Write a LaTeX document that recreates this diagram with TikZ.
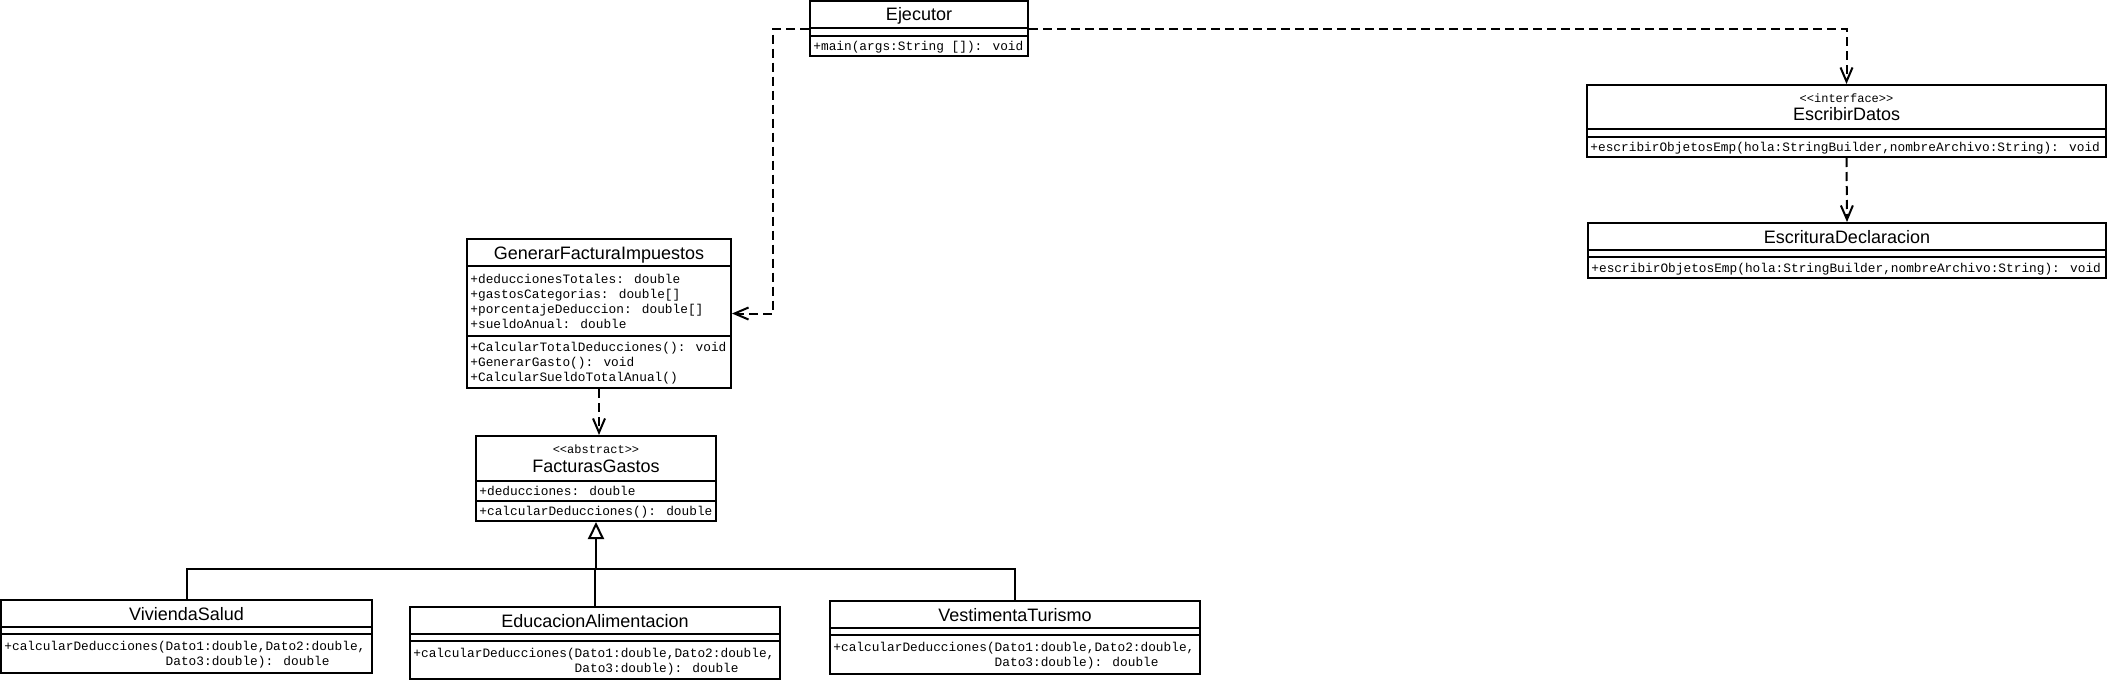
\documentclass[tikz,border=0pt]{standalone}
\usepackage{fontspec}
\setmainfont{Liberation Sans}
\newfontfamily\monof[Ligatures=TeXOff]{Liberation Mono}
\usetikzlibrary{arrows.meta,fit}
\begin{document}
\begin{tikzpicture}[x=0.5pt,y=-0.5pt,
  box/.style={draw, line width=1pt, inner sep=0pt, fit={#1}},
  div/.style={line width=1pt},
  cname/.style={font=\fontsize{9}{10}\selectfont, inner sep=0pt, text height=6.5pt, text depth=0pt},
  stereo/.style={font=\monof\fontsize{6}{7}\selectfont, inner sep=0pt, text height=4pt, text depth=0pt},
  member/.style={font=\monof\fontsize{6.4}{7.8}\selectfont, inner sep=0pt, anchor=west, text height=4.2pt, text depth=0pt},
  dep/.style={line width=1pt, dash pattern=on 4.5pt off 2.5pt, -{Straight Barb[length=7pt,width=6pt]}},
  gen/.style={line width=1pt},
]
\useasboundingbox (0,0) rectangle (2109,680);

% Ejecutor
\node[box={(810,1) (1028,56)}] (ejec) {};
\draw[div] (810,28) -- (1028,28) (810,36) -- (1028,36);
\node[cname] (ejec-n) at (919,14) {Ejecutor};
\node[member] (ejec-m) at (813,46) {+main(args:String []): void};

% EscribirDatos
\node[box={(1587,85) (2106,157)}] (escr) {};
\draw[div] (1587,129) -- (2106,129) (1587,137) -- (2106,137);
\node[stereo] (escr-s) at (1846.5,98) {<<interface>>};
\node[cname] (escr-n) at (1846.5,114) {EscribirDatos};
\node[member] (escr-m) at (1590,147) {+escribirObjetosEmp(hola:StringBuilder,nombreArchivo:String): void};

% EscrituraDeclaracion
\node[box={(1588,223) (2106,278)}] (escd) {};
\draw[div] (1588,250) -- (2106,250) (1588,257) -- (2106,257);
\node[cname] (escd-n) at (1847,237) {EscrituraDeclaracion};
\node[member] (escd-m) at (1591,268) {+escribirObjetosEmp(hola:StringBuilder,nombreArchivo:String): void};

% GenerarFacturaImpuestos
\node[box={(467,239) (731,388)}] (gen) {};
\draw[div] (467,266) -- (731,266) (467,336) -- (731,336);
\node[cname] (gen-n) at (599,252.5) {GenerarFacturaImpuestos};
\node[member] (gen-a1) at (470,279) {+deduccionesTotales: double};
\node[member] (gen-a2) at (470,294) {+gastosCategorias: double[]};
\node[member] (gen-a3) at (470,309) {+porcentajeDeduccion: double[]};
\node[member] (gen-a4) at (470,324) {+sueldoAnual: double};
\node[member] (gen-m1) at (470,347) {+CalcularTotalDeducciones(): void};
\node[member] (gen-m2) at (470,362) {+GenerarGasto(): void};
\node[member] (gen-m3) at (470,377) {+CalcularSueldoTotalAnual()};

% FacturasGastos
\node[box={(476,436) (716,521)}] (fac) {};
\draw[div] (476,481) -- (716,481) (476,501) -- (716,501);
\node[stereo] (fac-s) at (596,449) {<<abstract>>};
\node[cname] (fac-n) at (596,466) {FacturasGastos};
\node[member] (fac-a) at (479,491) {+deducciones: double};
\node[member] (fac-m) at (479,511) {+calcularDeducciones(): double};

% ViviendaSalud
\node[box={(1,600) (372,673)}] (viv) {};
\draw[div] (1,627) -- (372,627) (1,634) -- (372,634);
\node[cname] (viv-n) at (186.5,614) {ViviendaSalud};
\node[member] (viv-m1) at (4,646) {+calcularDeducciones(Dato1:double,Dato2:double,};
\node[member] (viv-m2) at (4,661) {\phantom{+calcularDeducciones(}Dato3:double): double};

% EducacionAlimentacion
\node[box={(410,607) (780,679)}] (edu) {};
\draw[div] (410,634) -- (780,634) (410,641) -- (780,641);
\node[cname] (edu-n) at (595,621) {EducacionAlimentacion};
\node[member] (edu-m1) at (413,653) {+calcularDeducciones(Dato1:double,Dato2:double,};
\node[member] (edu-m2) at (413,668) {\phantom{+calcularDeducciones(}Dato3:double): double};

% VestimentaTurismo
\node[box={(830,601) (1200,674)}] (ves) {};
\draw[div] (830,628) -- (1200,628) (830,635) -- (1200,635);
\node[cname] (ves-n) at (1015,615) {VestimentaTurismo};
\node[member] (ves-m1) at (833,647) {+calcularDeducciones(Dato1:double,Dato2:double,};
\node[member] (ves-m2) at (833,662) {\phantom{+calcularDeducciones(}Dato3:double): double};

% dependencies
\draw[dep] (ejec.west) -- ++(-36,0) |- (gen.east);
\draw[dep] (ejec.east) -| (escr.north);
\draw[dep] (escr.south) -- (escd.north);
\draw[dep] (gen.south) -- (gen.south |- fac.north);

% generalization
\coordinate (j) at (596,569);
\draw[gen] (viv.north) |- (j) -| (ves.north);
\draw[gen] (edu.north) -- (edu.north |- j);
\draw[gen, -{Triangle[open, length=8.5pt, width=8pt]}] (j) -- (fac.south);
\end{tikzpicture}
\end{document}
